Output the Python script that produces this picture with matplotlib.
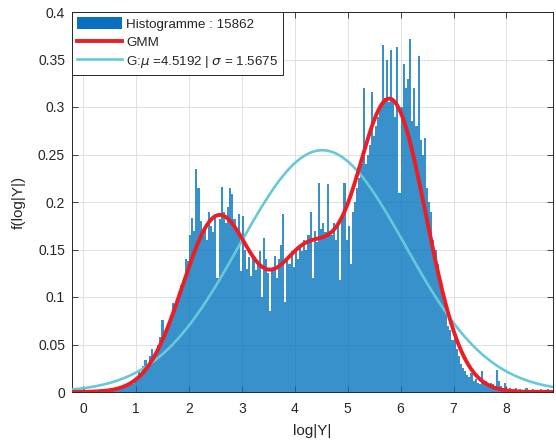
import numpy as np
import matplotlib
matplotlib.use("Agg")
import matplotlib.pyplot as plt
from matplotlib.patches import Patch
from matplotlib.lines import Line2D

# ---------------- data ----------------
bin_start = -0.20
bin_width = 0.04
hist_heights = [
    0.003, 0, 0.002, 0, 0, 0.003, 0, 0.002, 0, 0.002,
    0, 0.002, 0, 0.003, 0, 0.002, 0.003, 0, 0.004, 0.003,
    0.004, 0.005, 0.003, 0.006, 0.007, 0.005, 0.009, 0.011, 0.008, 0.013,
    0.016, 0.021, 0.018, 0.027, 0.034, 0.030, 0.038, 0.045, 0.036, 0.042,
    0.050, 0.058, 0.076, 0.064, 0.070, 0.072, 0.080, 0.094, 0.088, 0.098,
    0.105, 0.113, 0.120, 0.140, 0.138, 0.165, 0.183, 0.170, 0.235, 0.215,
    0.180, 0.165, 0.172, 0.160, 0.190, 0.175, 0.168, 0.185, 0.120, 0.182,
    0.216, 0.190, 0.178, 0.195, 0.215, 0.208, 0.182, 0.170, 0.187, 0.127,
    0.185, 0.150, 0.130, 0.142, 0.122, 0.140, 0.128, 0.135, 0.148, 0.100,
    0.162, 0.140, 0.125, 0.085, 0.130, 0.143, 0.120, 0.140, 0.155, 0.187,
    0.095, 0.140, 0.135, 0.148, 0.132, 0.150, 0.140, 0.155, 0.148, 0.160,
    0.150, 0.165, 0.190, 0.120, 0.170, 0.158, 0.220, 0.172, 0.178, 0.168,
    0.219, 0.170, 0.165, 0.178, 0.160, 0.175, 0.118, 0.185, 0.220, 0.160,
    0.175, 0.135, 0.190, 0.200, 0.215, 0.225, 0.240, 0.320, 0.240, 0.250,
    0.260, 0.316, 0.270, 0.280, 0.290, 0.300, 0.365, 0.310, 0.350, 0.305,
    0.360, 0.310, 0.290, 0.363, 0.210, 0.300, 0.345, 0.320, 0.330, 0.372,
    0.285, 0.320, 0.280, 0.354, 0.265, 0.250, 0.267, 0.215, 0.200, 0.190,
    0.160, 0.150, 0.135, 0.120, 0.110, 0.095, 0.085, 0.070, 0.065, 0.055,
    0.060, 0.045, 0.038, 0.030, 0.025, 0.022, 0.018, 0.016, 0.020, 0.012,
    0.014, 0.010, 0.008, 0.022, 0.009, 0.012, 0.006, 0.009, 0.008, 0.005,
    0.023, 0.012, 0.006, 0.004, 0.009, 0.003, 0.004, 0.002, 0.003, 0.004,
    0.002, 0.003, 0, 0.002, 0.004, 0.002, 0, 0.003, 0.002, 0,
    0.002, 0.003, 0, 0.002, 0.003, 0.002,
]
n_samples = 15862

gmm_weights = [0.315, 0.176, 0.523]
gmm_means = [2.56, 4.20, 5.80]
gmm_sigmas = [0.68, 0.55, 0.68]

g_mu = 4.5192
g_sigma = 1.5675

x_limits = [-0.21, 8.88]
y_limits = [0, 0.4]
x_ticks = [0, 1, 2, 3, 4, 5, 6, 7, 8]
y_ticks = [0, 0.05, 0.1, 0.15, 0.2, 0.25, 0.3, 0.35, 0.4]
y_tick_labels = ["0", "0.05", "0.1", "0.15", "0.2", "0.25", "0.3", "0.35", "0.4"]

# ---------------- figure ----------------
plt.rcParams['font.family'] = ['Liberation Sans', 'DejaVu Sans']
plt.rcParams['mathtext.fontset'] = 'dejavusans'

fig = plt.figure(figsize=(5.56, 4.45), dpi=100)
ax = fig.add_axes([72/556, 1 - 392/445, (553 - 72)/556, (392 - 12)/445])

heights = np.array(hist_heights, dtype=float)
centers = bin_start + bin_width * (np.arange(len(heights)) + 0.5)
ax.bar(centers, heights, width=bin_width, color='#0072BD', alpha=0.78,
       linewidth=0, antialiased=False, zorder=2)

def npdf(x, m, s):
    return np.exp(-0.5 * ((x - m) / s) ** 2) / (s * np.sqrt(2 * np.pi))

xs = np.linspace(x_limits[0], x_limits[1], 800)
gmm = np.zeros_like(xs)
for w, m, s in zip(gmm_weights, gmm_means, gmm_sigmas):
    gmm += w * npdf(xs, m, s)
gauss = npdf(xs, g_mu, g_sigma)

ax.plot(xs, gmm, color='#EE1D24', lw=2.8, zorder=4, solid_capstyle='butt')
ax.plot(xs, gauss, color='#66C9D9', lw=1.9, zorder=3)

ax.set_xlim(x_limits)
ax.set_ylim(y_limits)
ax.set_xticks(x_ticks)
ax.set_yticks(y_ticks)
ax.set_yticklabels(y_tick_labels)

tc = '#262626'
ax.tick_params(direction='in', length=4, width=0.6, colors=tc, labelsize=10,
               top=True, right=True)
ax.tick_params(axis='x', pad=7)
ax.tick_params(axis='y', pad=5)
for sp in ax.spines.values():
    sp.set_color(tc)
    sp.set_linewidth(0.7)
ax.grid(True, color='#DCDCDC', linewidth=0.6, zorder=0)
ax.set_axisbelow(True)

ax.set_xlabel('log|Y|', fontsize=11, color=tc, va='center')
ax.set_ylabel('f(log|Y|)', fontsize=11, color=tc, va='center')
ax.xaxis.set_label_coords(0.5, (392 - 431) / 380)
ax.yaxis.set_label_coords((19 - 72) / 481, 0.5)

handles = [
    Patch(facecolor='#0A6FBE', edgecolor='none'),
    Line2D([], [], color='#EE1D24', lw=2.8),
    Line2D([], [], color='#66C9D9', lw=1.9),
]
labels = [
    'Histogramme : %d' % n_samples,
    'GMM',
    r'G:$\mu$ =%.4f | $\sigma$ = %.4f' % (g_mu, g_sigma),
]
leg = ax.legend(handles, labels, loc='upper left', bbox_to_anchor=(0, 1),
                borderaxespad=0, fancybox=False, framealpha=1,
                edgecolor=tc, fontsize=9.6, handlelength=3.4,
                handleheight=1.1, handletextpad=0.3, labelspacing=0.35,
                borderpad=0.35)
leg.get_frame().set_linewidth(0.7)
for t in leg.get_texts():
    t.set_color(tc)

fig.savefig('out.png', dpi=100)
